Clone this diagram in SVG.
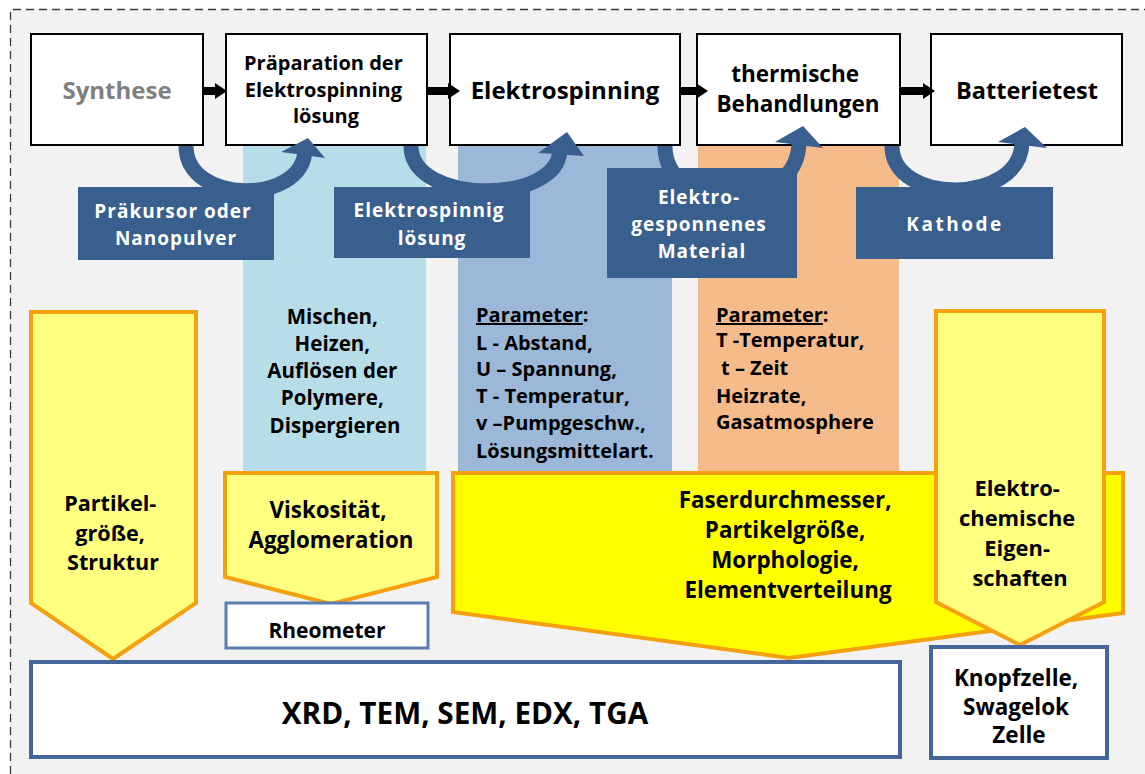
<svg xmlns="http://www.w3.org/2000/svg" width="1145" height="774" viewBox="0 0 1145 774">
  <defs>
    <style>
      .t { font-family: "Open Sans", "Liberation Sans", sans-serif; font-weight: bold; fill: #000; }
      .c { text-anchor: middle; }
      .w { font-family: "Open Sans", "Liberation Sans", sans-serif; font-weight: bold; fill: #fff; text-anchor: middle; letter-spacing: 1px; }
      .step { fill: #fff; stroke: #000; stroke-width: 2; }
      .lbl { fill: #385f8e; }
      .bend { fill: none; stroke: #385f8e; stroke-width: 15; }
      .head { fill: #385f8e; }
      .flow { fill: #000; }
      .pent { fill: #ffff80; stroke: #f5a00f; stroke-width: 4; stroke-linejoin: miter; }
      .tool { fill: #fff; stroke: #44669a; stroke-width: 4; }
      .ul { text-decoration: underline; }
    </style>
  </defs>

  <!-- page -->
  <rect x="0" y="0" width="1145" height="774" fill="#fff"/>
  <rect x="10" y="9" width="1135" height="765" fill="#f2f2f2"/>
  <path d="M10.5 774 V9.5 H1145" fill="none" stroke="#3a3a3a" stroke-width="1.3" stroke-dasharray="8 5"/>

  <!-- process columns -->
  <g id="col-praeparation">
    <rect x="243" y="140" width="183" height="332" fill="#b7dde8"/>
    <text class="t c" font-size="20.5">
      <tspan x="335" y="324">Mischen,</tspan>
      <tspan x="335" y="351">Heizen,</tspan>
      <tspan x="335" y="378">Auflösen der</tspan>
      <tspan x="335" y="405">Polymere,</tspan>
      <tspan x="335" y="433">Dispergieren</tspan>
    </text>
  </g>
  <g id="col-elektrospinning">
    <rect x="458" y="140" width="214" height="332" fill="#9cb8d8"/>
    <text class="t" font-size="20">
      <tspan x="476" y="322"><tspan class="ul">Parameter</tspan>:</tspan>
      <tspan x="476" y="350">L - Abstand,</tspan>
      <tspan x="476" y="376">U – Spannung,</tspan>
      <tspan x="476" y="403">T - Temperatur,</tspan>
      <tspan x="476" y="430">v –Pumpgeschw.,</tspan>
      <tspan x="476" y="458">Lösungsmittelart.</tspan>
    </text>
  </g>
  <g id="col-thermisch">
    <rect x="698" y="140" width="201" height="332" fill="#f5bb8b"/>
    <text class="t" font-size="20">
      <tspan x="716" y="322"><tspan class="ul">Parameter</tspan>:</tspan>
      <tspan x="716" y="347">T -Temperatur,</tspan>
      <tspan x="721" y="375">t – Zeit</tspan>
      <tspan x="716" y="403">Heizrate,</tspan>
      <tspan x="716" y="429">Gasatmosphere</tspan>
    </text>
  </g>

  <!-- property arrows -->
  <g id="prop-partikel">
    <polygon class="pent" points="31,312 196,312 196,603 113,659 31,603"/>
    <text class="t c" font-size="21.6">
      <tspan x="113" y="511">Partikel-</tspan>
      <tspan x="113" y="541">größe,</tspan>
      <tspan x="113" y="570">Struktur</tspan>
    </text>
  </g>
  <g id="prop-viskositaet">
    <polygon class="pent" points="225,473 437,473 437,577 331,604 225,577"/>
    <text class="t c" font-size="22.3">
      <tspan x="331" y="518">Viskosität,</tspan>
      <tspan x="331" y="548">Agglomeration</tspan>
    </text>
  </g>
  <g id="prop-faser">
    <polygon class="pent" style="fill:#ffff00" points="453,473 1123,473 1123,613 789,658 453,612"/>
    <text class="t c" font-size="22.4">
      <tspan x="788" y="508">Faserdurchmesser,</tspan>
      <tspan x="788" y="538">Partikelgröße,</tspan>
      <tspan x="788" y="568">Morphologie,</tspan>
      <tspan x="788" y="598">Elementverteilung</tspan>
    </text>
  </g>
  <g id="prop-elektrochemie">
    <polygon class="pent" points="936,311 1104,311 1104,602 1020,645 936,602"/>
    <text class="t c" font-size="21.9">
      <tspan x="1020" y="496">Elektro-</tspan>
      <tspan x="1020" y="526">chemische</tspan>
      <tspan x="1020" y="556">Eigen-</tspan>
      <tspan x="1020" y="586">schaften</tspan>
    </text>
  </g>

  <!-- measuring methods -->
  <g id="tool-rheometer">
    <rect x="226" y="603" width="202" height="45" fill="#fff" stroke="#5b7db0" stroke-width="3"/>
    <text class="t c" font-size="21" x="327" y="637.5">Rheometer</text>
  </g>
  <g id="tool-analytik">
    <rect class="tool" x="31" y="662" width="869" height="95"/>
    <text class="t c" font-size="29.7" x="465" y="724">XRD, TEM, SEM, EDX, TGA</text>
  </g>
  <g id="tool-zelle">
    <rect class="tool" x="931" y="647" width="176" height="111"/>
    <text class="t c" font-size="22.5">
      <tspan x="1019" y="686">Knopfzelle,</tspan>
      <tspan x="1019" y="715">Swagelok</tspan>
      <tspan x="1019" y="743">Zelle</tspan>
    </text>
  </g>

  <!-- process steps -->
  <g id="step-synthese">
    <rect class="step" x="31" y="34" width="172" height="111"/>
    <text class="t c" font-size="24" x="117" y="99" style="fill:#808080">Synthese</text>
  </g>
  <g id="step-praeparation">
    <rect class="step" x="226" y="34" width="201" height="111"/>
    <text class="t c" font-size="20">
      <tspan x="326" y="70">Präparation der</tspan>
      <tspan x="326" y="97">Elektrospinning</tspan>
      <tspan x="326" y="123">lösung</tspan>
    </text>
  </g>
  <g id="step-elektrospinning">
    <rect class="step" x="450" y="34" width="230" height="111"/>
    <text class="t c" font-size="24" x="565" y="99">Elektrospinning</text>
  </g>
  <g id="step-thermisch">
    <rect class="step" x="697" y="34" width="203" height="111"/>
    <text class="t c" font-size="22.5">
      <tspan x="798" y="82">thermische</tspan>
      <tspan x="798" y="112">Behandlungen</tspan>
    </text>
  </g>
  <g id="step-batterietest">
    <rect class="step" x="931" y="34" width="191" height="111"/>
    <text class="t c" font-size="23.5" x="1027" y="99">Batterietest</text>
  </g>

  <!-- connectors: flow arrows between steps and curved product arrows -->
  <g id="connectors">
    <path class="flow" d="M203 87 H215 V83 L227 91 L215 99 V95 H203 Z"/>
    <path class="flow" d="M427 87 H448 V83 L460 91 L448 99 V95 H427 Z"/>
    <path class="flow" d="M680 87 H696 V83 L708 91 L696 99 V95 H680 Z"/>
    <path class="flow" d="M900 87 H923 V83 L935 91 L923 99 V95 H900 Z"/>

    <path class="bend" d="M186 146 C186 205 303 205 305 150"/>
    <polygon class="head" points="281,152 308,138 325,158"/>
    <path class="bend" d="M411 146 C411 205 558 205 560 150"/>
    <polygon class="head" points="538,153 567,132 584,156"/>
    <path class="bend" d="M665 146 C665 215 797 215 799 143"/>
    <polygon class="head" points="775,142 803,126 823,148"/>
    <path class="bend" d="M892 146 C892 205 1020 205 1022 143"/>
    <polygon class="head" points="998,142 1025,127 1047,148"/>
  </g>

  <!-- intermediate products -->
  <g id="prod-praekursor">
    <rect class="lbl" x="78" y="187" width="196" height="73"/>
    <text class="w" font-size="19">
      <tspan x="176" y="218">Präkursor oder</tspan>
      <tspan x="176" y="245">Nanopulver</tspan>
    </text>
  </g>
  <g id="prod-loesung">
    <rect class="lbl" x="334" y="187" width="196" height="71"/>
    <text class="w" font-size="19">
      <tspan x="432" y="217">Elektrospinnig</tspan>
      <tspan x="432" y="245">lösung</tspan>
    </text>
  </g>
  <g id="prod-material">
    <rect class="lbl" x="607" y="168" width="190" height="110"/>
    <text class="w" font-size="19">
      <tspan x="702" y="204">Elektro-</tspan>
      <tspan x="702" y="231">gesponnenes</tspan>
      <tspan x="702" y="258">Material</tspan>
    </text>
  </g>
  <g id="prod-kathode">
    <rect class="lbl" x="856" y="187" width="197" height="72"/>
    <text class="w" font-size="19" x="955" y="231" style="letter-spacing:2.5px">Kathode</text>
  </g>
</svg>
